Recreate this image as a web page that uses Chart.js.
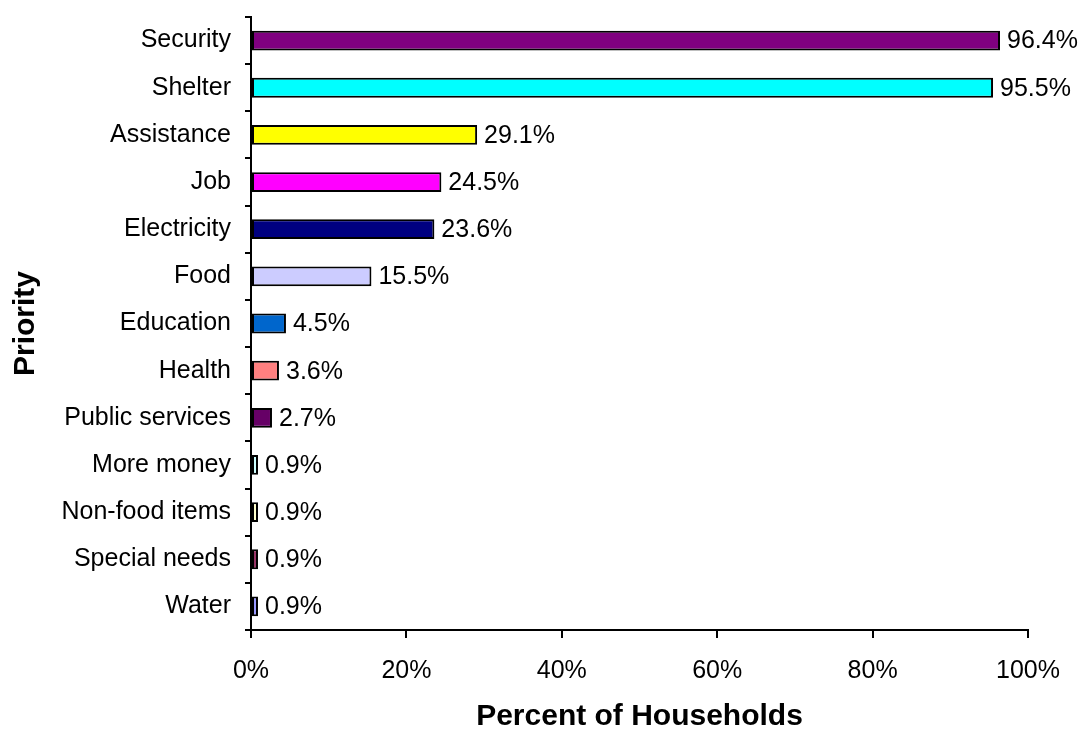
<!DOCTYPE html>
<html>
<head>
<meta charset="utf-8">
<script src="https://cdn.jsdelivr.net/npm/chart.js@4/dist/chart.umd.min.js"></script>
<style>
    body { margin: 0; background: #fff; }
    #wrap { width: 1085px; height: 729px; }
</style>
</head>
<body>
<div id="wrap"><canvas id="priorityChart" width="1085" height="729"></canvas></div>
<script>
const categories = ["Security", "Shelter", "Assistance", "Job", "Electricity", "Food", "Education",
    "Health", "Public services", "More money", "Non-food items", "Special needs", "Water"];
const percents = [96.4, 95.5, 29.1, 24.5, 23.6, 15.5, 4.5, 3.6, 2.7, 0.9, 0.9, 0.9, 0.9];
const barColors = ["#800080", "#00FFFF", "#FFFF00", "#FF00FF", "#000080", "#CCCCFF", "#0066CC",
    "#FF8080", "#660066", "#CCFFFF", "#FFFFCC", "#993366", "#9999FF"];
const xTicks = [0, 20, 40, 60, 80, 100];

const fontFam = "'Liberation Sans', Arial, sans-serif";

// percent text right of each bar
const valueLabels = {
    id: 'valueLabels',
    afterDatasetsDraw(chart) {
        let ctx = chart.ctx;
        let meta = chart.getDatasetMeta(0);
        ctx.save();
        ctx.font = "25px " + fontFam;
        ctx.fillStyle = "#000";
        ctx.textAlign = "left";
        ctx.textBaseline = "middle";
        meta.data.forEach((bar, i) => {
            ctx.fillText(percents[i].toFixed(1) + "%", bar.x + 7, bar.y + 1);
        });
        ctx.restore();
    }
};

const ctx = document.getElementById("priorityChart").getContext("2d");

const chart = new Chart(ctx, {
    type: 'bar',
    data: {
        labels: categories,
        datasets: [{
            data: percents,
            backgroundColor: barColors,
            borderColor: '#000',
            borderWidth: 2,
            borderSkipped: false,
            barPercentage: 0.42,
            categoryPercentage: 1
        }]
    },
    options: {
        indexAxis: 'y',
        responsive: false,
        animation: false,
        layout: { padding: { left: 0, right: 57, top: 17, bottom: 0 } },
        plugins: {
            legend: { display: false },
            tooltip: { enabled: false }
        },
        scales: {
            x: {
                min: 0,
                max: 100,
                afterBuildTicks: (scale) => { scale.ticks = xTicks.map(v => ({ value: v })); },
                afterFit: (scale) => { scale.height = 99; },
                border: { color: '#000', width: 2 },
                grid: { drawOnChartArea: false, drawTicks: true, tickLength: 8, color: '#000', lineWidth: 2 },
                ticks: {
                    color: '#000',
                    padding: 18,
                    font: { size: 25, family: fontFam },
                    callback: (v) => v + "%"
                },
                title: {
                    display: true,
                    text: "Percent of Households",
                    color: '#000',
                    padding: { top: 0, bottom: 0 },
                    font: { size: 30, weight: 'bold', family: fontFam, lineHeight: 0.8 }
                }
            },
            y: {
                afterFit: (scale) => {
                    scale.width = 251;
                    scale.paddingTop = 0;
                    scale.paddingBottom = 0;
                },
                border: { color: '#000', width: 2 },
                grid: { drawOnChartArea: false, drawTicks: true, tickLength: 6, color: '#000', lineWidth: 2 },
                ticks: {
                    color: '#000',
                    padding: 14,
                    font: { size: 25, family: fontFam }
                },
                title: {
                    display: true,
                    text: "Priority",
                    color: '#000',
                    padding: { top: 11, bottom: 0 },
                    font: { size: 30, weight: 'bold', family: fontFam, lineHeight: 1 }
                }
            }
        }
    },
    plugins: [valueLabels]
});
</script>
</body>
</html>
